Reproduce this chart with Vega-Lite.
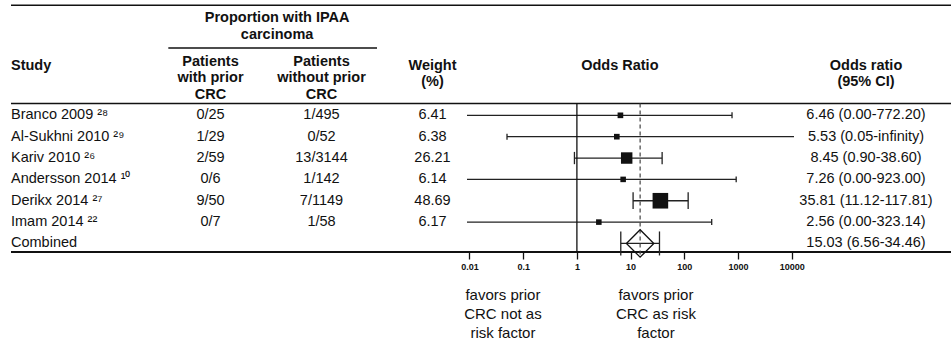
{
  "$schema": "https://vega.github.io/schema/vega-lite/v6.json",
  "padding": {"left": 10, "right": 2, "top": 0, "bottom": 0},
  "width": 940,
  "height": 252,
  "resolve": {"scale": {"x": "independent", "size": "independent"}, "axis": {"x": "independent"}},
  "config": {
    "view": {"stroke": null},
    "font": "Liberation Sans",
    "text": {"font": "Liberation Sans", "fontSize": 14.5, "color": "#111", "baseline": "middle"},
    "rule": {"color": "#111", "strokeWidth": 1.3}
  },
  "datasets": {
    "studies": [
      {"study": "Branco 2009 ²⁸", "kind": "study", "r": 1, "prior": "0/25", "without": "1/495", "weight": 6.41, "or": 6.46, "lo": 0.00, "hi": 772.20, "ci": "6.46 (0.00-772.20)"},
      {"study": "Al-Sukhni 2010 ²⁹", "kind": "study", "r": 2, "prior": "1/29", "without": "0/52", "weight": 6.38, "or": 5.53, "lo": 0.05, "hi": 1e308, "ci": "5.53 (0.05-infinity)"},
      {"study": "Kariv 2010 ²⁶", "kind": "study", "r": 3, "prior": "2/59", "without": "13/3144", "weight": 26.21, "or": 8.45, "lo": 0.90, "hi": 38.60, "ci": "8.45 (0.90-38.60)"},
      {"study": "Andersson 2014 ¹⁰", "kind": "study", "r": 4, "prior": "0/6", "without": "1/142", "weight": 6.14, "or": 7.26, "lo": 0.00, "hi": 923.00, "ci": "7.26 (0.00-923.00)"},
      {"study": "Derikx 2014 ²⁷", "kind": "study", "r": 5, "prior": "9/50", "without": "7/1149", "weight": 48.69, "or": 35.81, "lo": 11.12, "hi": 117.81, "ci": "35.81 (11.12-117.81)"},
      {"study": "Imam 2014 ²²", "kind": "study", "r": 6, "prior": "0/7", "without": "1/58", "weight": 6.17, "or": 2.56, "lo": 0.00, "hi": 323.14, "ci": "2.56 (0.00-323.14)"},
      {"study": "Combined", "kind": "total", "r": 7, "weight": 100, "or": 15.03, "lo": 6.56, "hi": 34.46, "ci": "15.03 (6.56-34.46)"}
    ],
    "hlines": [{"r": -4.15}, {"r": 0.45}, {"r": 7.4}],
    "headers": [
      {"col": "study", "text": "Study", "r": -1.31},
      {"col": "span", "text": "Proportion with IPAA\ncarcinoma", "r": -3.557},
      {"col": "prior", "text": "Patients\nwith prior\nCRC", "r": -1.497},
      {"col": "without", "text": "Patients\nwithout prior\nCRC", "r": -1.497},
      {"col": "weight", "text": "Weight\n(%)", "r": -1.31},
      {"col": "plot", "text": "Odds Ratio", "r": -1.31},
      {"col": "ci", "text": "Odds ratio\n(95% CI)", "r": -1.31}
    ],
    "notes": [
      {"text": "favors prior\nCRC not as\nrisk factor", "at": 0.042, "r": 9.41},
      {"text": "favors prior\nCRC  as risk\nfactor", "at": 29.6, "r": 9.41}
    ]
  },
  "encoding": {
    "y": {"field": "r", "type": "quantitative", "scale": {"domain": [-4.4, 7.4], "reverse": true, "nice": false, "zero": false}, "axis": null}
  },
  "layer": [
    {
      "data": {"name": "hlines"},
      "transform": [{"filter": "datum.r < 7"}],
      "mark": {"type": "rule", "strokeWidth": 1.5}
    },
    {
      "data": {"name": "hlines"},
      "transform": [{"filter": "datum.r > 7"}],
      "mark": {"type": "rule", "strokeWidth": 2}
    },
    {
      "data": {"name": "hlines"},
      "transform": [{"filter": "datum.r > 0 && datum.r < 1"}],
      "mark": {"type": "rule", "strokeWidth": 1.5},
      "encoding": {
        "x": {"datum": "prior", "type": "nominal", "bandPosition": 0.12, "axis": null,
              "scale": {"type": "band", "domain": ["prior", "without", "weight"], "range": [144, 477], "paddingInner": 0, "paddingOuter": 0}},
        "x2": {"datum": "without", "bandPosition": 1},
        "y": {"datum": -2.15, "type": "quantitative"}
      }
    },
    {
      "data": {"name": "headers"},
      "transform": [{"filter": "datum.col == 'study'"}],
      "mark": {"type": "text", "align": "left", "fontWeight": "bold"},
      "encoding": {
        "x": {"field": "col", "type": "nominal", "bandPosition": 0, "axis": null,
              "scale": {"type": "band", "domain": ["study"], "range": [0, 144], "paddingInner": 0, "paddingOuter": 0}},
        "text": {"field": "text", "type": "nominal"}
      }
    },
    {
      "data": {"name": "studies"},
      "mark": {"type": "text", "align": "left"},
      "encoding": {
        "x": {"datum": "study", "type": "nominal", "bandPosition": 0, "axis": null,
              "scale": {"type": "band", "domain": ["study"], "range": [0, 144], "paddingInner": 0, "paddingOuter": 0}},
        "text": {"field": "study", "type": "nominal"},
        "fontWeight": {"condition": {"test": "datum.kind == 'total'", "value": "bold"}, "value": "normal"}
      }
    },
    {
      "data": {"name": "headers"},
      "transform": [{"filter": "indexof(['prior','without','weight'], datum.col) >= 0"}],
      "mark": {"type": "text", "fontWeight": "bold", "lineBreak": "\n", "lineHeight": 16.5},
      "encoding": {
        "x": {"field": "col", "type": "nominal", "axis": null,
              "scale": {"type": "band", "domain": ["prior", "without", "weight"], "range": [144, 477], "paddingInner": 0, "paddingOuter": 0}},
        "text": {"field": "text", "type": "nominal"}
      }
    },
    {
      "data": {"name": "headers"},
      "transform": [{"filter": "datum.col == 'span'"}],
      "mark": {"type": "text", "fontWeight": "bold", "lineBreak": "\n", "lineHeight": 16.5},
      "encoding": {
        "x": {"datum": "without", "type": "nominal", "bandPosition": 0.1, "axis": null,
              "scale": {"type": "band", "domain": ["prior", "without", "weight"], "range": [144, 477], "paddingInner": 0, "paddingOuter": 0}},
        "text": {"field": "text", "type": "nominal"}
      }
    },
    {
      "data": {"name": "studies"},
      "transform": [
        {"filter": "datum.kind == 'study'"},
        {"fold": ["prior", "without", "weight"], "as": ["key", "value"]}
      ],
      "mark": {"type": "text"},
      "encoding": {
        "x": {"field": "key", "type": "nominal", "axis": null,
              "scale": {"type": "band", "domain": ["prior", "without", "weight"], "range": [144, 477], "paddingInner": 0, "paddingOuter": 0}},
        "text": {"field": "value", "type": "nominal"}
      }
    },
    {
      "data": {"name": "studies"},
      "mark": {"type": "rule", "color": "#222"},
      "encoding": {
        "x": {
          "field": "lo", "type": "quantitative", "title": null,
          "scale": {"type": "log", "domain": [0.009, 11000], "range": [456, 783], "clamp": true, "nice": false},
          "axis": {
            "orient": "bottom",
            "values": [0.01, 0.1, 1, 10, 100, 1000, 10000], "format": "~g", "domain": false, "grid": false,
            "tickSize": 7, "tickWidth": 1.3, "tickColor": "#111",
            "labelFont": "Liberation Sans", "labelFontWeight": "bold", "labelFontSize": 9, "labelColor": "#111",
            "labelPadding": 3, "labelFlush": false, "labelOverlap": false, "title": null
          }
        },
        "x2": {"field": "hi"}
      }
    },
    {
      "data": {"name": "hlines"},
      "transform": [{"filter": "datum.r > 0 && datum.r < 1"}],
      "mark": {"type": "rule"},
      "encoding": {
        "x": {"datum": 1, "type": "quantitative", "axis": null,
              "scale": {"type": "log", "domain": [0.009, 11000], "range": [456, 783], "clamp": true, "nice": false}},
        "y2": {"datum": 7.4}
      }
    },
    {
      "data": {"name": "studies"},
      "transform": [{"filter": "datum.kind == 'total'"}],
      "mark": {"type": "rule", "strokeDash": [4, 3], "color": "#444", "strokeWidth": 1.2},
      "encoding": {
        "x": {"field": "or", "type": "quantitative", "axis": null,
              "scale": {"type": "log", "domain": [0.009, 11000], "range": [456, 783], "clamp": true, "nice": false}},
        "y": {"datum": 0.45, "type": "quantitative"},
        "y2": {"datum": 7.6}
      }
    },
    {
      "data": {"name": "studies"},
      "transform": [{"filter": "datum.lo >= 0.009"}],
      "mark": {"type": "tick", "orient": "vertical", "thickness": 1.3, "color": "#222", "opacity": 1},
      "encoding": {
        "x": {"field": "lo", "type": "quantitative", "axis": null,
              "scale": {"type": "log", "domain": [0.009, 11000], "range": [456, 783], "clamp": true, "nice": false}},
        "size": {"field": "weight", "type": "quantitative", "scale": {"type": "sqrt", "domain": [0, 100], "range": [0, 24]}, "legend": null}
      }
    },
    {
      "data": {"name": "studies"},
      "transform": [{"filter": "datum.hi <= 11000"}],
      "mark": {"type": "tick", "orient": "vertical", "thickness": 1.3, "color": "#222", "opacity": 1},
      "encoding": {
        "x": {"field": "hi", "type": "quantitative", "axis": null,
              "scale": {"type": "log", "domain": [0.009, 11000], "range": [456, 783], "clamp": true, "nice": false}},
        "size": {"field": "weight", "type": "quantitative", "scale": {"type": "sqrt", "domain": [0, 100], "range": [0, 24]}, "legend": null}
      }
    },
    {
      "data": {"name": "studies"},
      "transform": [{"filter": "datum.kind == 'study'"}],
      "mark": {"type": "square", "color": "#111", "opacity": 1},
      "encoding": {
        "x": {"field": "or", "type": "quantitative", "axis": null,
              "scale": {"type": "log", "domain": [0.009, 11000], "range": [456, 783], "clamp": true, "nice": false}},
        "size": {"field": "weight", "type": "quantitative", "scale": {"type": "linear", "domain": [0, 50], "range": [0, 250]}, "legend": null}
      }
    },
    {
      "data": {"name": "studies"},
      "transform": [{"filter": "datum.kind == 'total'"}],
      "mark": {"type": "point", "shape": "diamond", "filled": false, "size": 750, "stroke": "#111", "strokeWidth": 1.3, "opacity": 1},
      "encoding": {
        "x": {"field": "or", "type": "quantitative", "axis": null,
              "scale": {"type": "log", "domain": [0.009, 11000], "range": [456, 783], "clamp": true, "nice": false}}
      }
    },
    {
      "data": {"name": "headers"},
      "transform": [{"filter": "datum.col == 'plot'"}],
      "mark": {"type": "text", "fontWeight": "bold"},
      "encoding": {
        "x": {"datum": 6.3, "type": "quantitative", "axis": null,
              "scale": {"type": "log", "domain": [0.009, 11000], "range": [456, 783], "clamp": true, "nice": false}},
        "text": {"field": "text", "type": "nominal"}
      }
    },
    {
      "data": {"name": "notes"},
      "mark": {"type": "text", "fontSize": 15, "lineBreak": "\n", "lineHeight": 19},
      "encoding": {
        "x": {"field": "at", "type": "quantitative", "axis": null,
              "scale": {"type": "log", "domain": [0.009, 11000], "range": [456, 783], "clamp": true, "nice": false}},
        "text": {"field": "text", "type": "nominal"}
      }
    },
    {
      "data": {"name": "headers"},
      "transform": [{"filter": "datum.col == 'ci'"}],
      "mark": {"type": "text", "fontWeight": "bold", "lineBreak": "\n", "lineHeight": 16.5},
      "encoding": {
        "x": {"field": "col", "type": "nominal", "axis": null,
              "scale": {"type": "band", "domain": ["ci"], "range": [783, 927], "paddingInner": 0, "paddingOuter": 0}},
        "text": {"field": "text", "type": "nominal"}
      }
    },
    {
      "data": {"name": "studies"},
      "mark": {"type": "text"},
      "encoding": {
        "x": {"datum": "ci", "type": "nominal", "axis": null,
              "scale": {"type": "band", "domain": ["ci"], "range": [783, 927], "paddingInner": 0, "paddingOuter": 0}},
        "text": {"field": "ci", "type": "nominal"}
      }
    }
  ]
}
